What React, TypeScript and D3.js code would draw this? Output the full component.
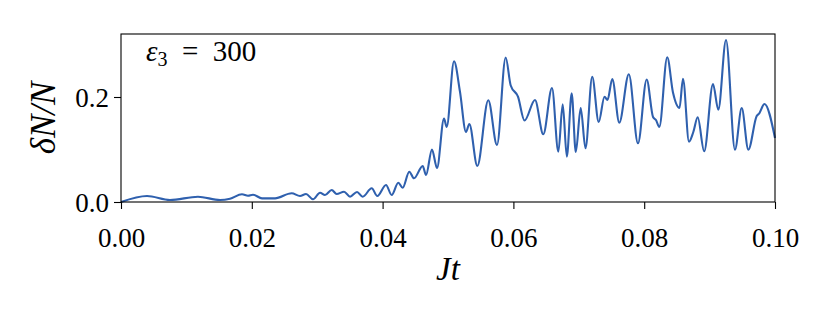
import React, { useEffect, useRef } from 'react';
import * as d3 from 'd3';

// time values (Jt) at the extrema / shoulders of the trace
const times = [
  0, 0.00398, 0.00749, 0.01177, 0.01514, 0.01667, 0.0185, 0.01942, 0.02018, 0.02156,
  0.02355, 0.0261, 0.02737, 0.02829, 0.02936, 0.03043, 0.03119, 0.03222, 0.03298, 0.0341,
  0.03502, 0.03609, 0.03696, 0.03833, 0.03919, 0.04052, 0.04139, 0.0424, 0.04307, 0.04408,
  0.0448, 0.04613, 0.04664, 0.04755, 0.04832, 0.04939, 0.0498, 0.05092, 0.05183, 0.05275,
  0.05326, 0.05448, 0.05616, 0.05749, 0.05882, 0.05959, 0.0607, 0.0617, 0.0633, 0.06457,
  0.0659, 0.06687, 0.06754, 0.06817, 0.06891, 0.06954, 0.07029, 0.07102, 0.07205, 0.07304,
  0.07393, 0.07439, 0.07512, 0.07619, 0.07765, 0.07905, 0.08038, 0.08135, 0.0818, 0.08231,
  0.08352, 0.0844, 0.0854, 0.08593, 0.08685, 0.08751, 0.08818, 0.08917, 0.09052, 0.09133,
  0.09251, 0.09388, 0.09491, 0.09592, 0.0972, 0.0976, 0.09839, 0.1
];

// deltaN / N
const deltaN = [
  0, 0.0114, 0.0038, 0.0101, 0.0038, 0.0063, 0.0147, 0.012, 0.0139, 0.007,
  0.007, 0.0166, 0.0114, 0.0152, 0.0051, 0.0177, 0.0133, 0.0229, 0.0152, 0.0196,
  0.0101, 0.019, 0.0101, 0.0261, 0.0114, 0.0324, 0.0133, 0.0368, 0.0272, 0.0577,
  0.0451, 0.0686, 0.0514, 0.1, 0.0648, 0.159, 0.1429, 0.268, 0.2101, 0.1333,
  0.1486, 0.0686, 0.1937, 0.1086, 0.2752, 0.2219, 0.2006, 0.1552, 0.1943, 0.129,
  0.2171, 0.0958, 0.1861, 0.0863, 0.207, 0.0952, 0.179, 0.1023, 0.2387, 0.1524,
  0.2006, 0.1943, 0.2343, 0.151, 0.2434, 0.1118, 0.2333, 0.1619, 0.1562, 0.1429,
  0.2756, 0.2086, 0.179, 0.2347, 0.1149, 0.1333, 0.1613, 0.0966, 0.2248, 0.1758,
  0.3086, 0.0996, 0.179, 0.0996, 0.1638, 0.169, 0.1867, 0.1219
];

const xTicks = [0, 0.02, 0.04, 0.06, 0.08, 0.1];
const yTicks = [0, 0.2];

const App = () => {
  const svgRef = useRef<SVGSVGElement>(null);

  useEffect(() => {
    const width = 830;
    const height = 320;
    const margin = { top: 34, right: 55, bottom: 118, left: 121 };
    const font = "'Liberation Serif', 'DejaVu Serif', serif";

    const svg = d3.select(svgRef.current);
    svg.selectAll('*').remove();
    svg.attr('width', width).attr('height', height);

    const x = d3.scaleLinear().domain([0, 0.1]).range([margin.left, width - margin.right]);
    const y = d3.scaleLinear().domain([0, 0.32]).range([height - margin.bottom, margin.top]);

    const data = times.map((t, i) => ({ t, v: deltaN[i] }));

    const line = d3.line<{ t: number; v: number }>()
      .x(d => x(d.t))
      .y(d => y(d.v))
      .curve(d3.curveMonotoneX);

    svg.append('path')
      .datum(data)
      .attr('fill', 'none')
      .attr('stroke', '#2f60ae')
      .attr('stroke-width', 2.1)
      .attr('stroke-linejoin', 'round')
      .attr('d', line);

    const xAxis = d3.axisBottom(x).tickValues(xTicks).tickFormat(d3.format('.2f')).tickSizeOuter(0).tickSize(7);
    const yAxis = d3.axisLeft(y).tickValues(yTicks).tickFormat(d3.format('.1f')).tickSizeOuter(0).tickSize(7);

    const gx = svg.append('g')
      .attr('transform', `translate(0,${height - margin.bottom})`)
      .call(xAxis);
    gx.select('.domain').remove();
    gx.selectAll('line').attr('stroke', '#000').attr('stroke-width', 1.1);
    gx.selectAll('text')
      .attr('font-family', font)
      .attr('font-size', 27)
      .attr('fill', '#000')
      .attr('dy', '0')
      .attr('y', 45);

    const gy = svg.append('g')
      .attr('transform', `translate(${margin.left},0)`)
      .call(yAxis);
    gy.select('.domain').remove();
    gy.selectAll('line').attr('stroke', '#000').attr('stroke-width', 1.1);
    gy.selectAll('text')
      .attr('font-family', font)
      .attr('font-size', 27)
      .attr('fill', '#000')
      .attr('dy', '0.35em')
      .attr('x', -12);

    // frame
    svg.append('rect')
      .attr('x', margin.left)
      .attr('y', margin.top)
      .attr('width', width - margin.left - margin.right)
      .attr('height', height - margin.top - margin.bottom)
      .attr('fill', 'none')
      .attr('stroke', '#000')
      .attr('stroke-width', 1.1);

    // annotation
    const ann = svg.append('text')
      .attr('x', 146)
      .attr('y', 61)
      .attr('font-family', font)
      .attr('font-size', 29)
      .attr('fill', '#000');
    ann.append('tspan').attr('font-style', 'italic').text('ε');
    ann.append('tspan').attr('font-size', 20).attr('dy', 5).text('3');
    ann.append('tspan').attr('dy', -5).text('\u2002=\u2002300');

    // x label
    svg.append('text')
      .attr('x', (margin.left + width - margin.right) / 2)
      .attr('y', 280)
      .attr('text-anchor', 'middle')
      .attr('font-family', font)
      .attr('font-size', 33)
      .attr('font-style', 'italic')
      .text('Jt');

    // y label
    svg.append('text')
      .attr('transform', `translate(55,${(margin.top + height - margin.bottom) / 2}) rotate(-90)`)
      .attr('text-anchor', 'middle')
      .attr('font-family', font)
      .attr('font-size', 35)
      .attr('font-style', 'italic')
      .text('δN/N');
  }, []);

  return (
    <div style={{ position: 'absolute', left: 0, top: 0 }}>
      <svg ref={svgRef} style={{ display: 'block' }}></svg>
    </div>
  );
};

export default App;
